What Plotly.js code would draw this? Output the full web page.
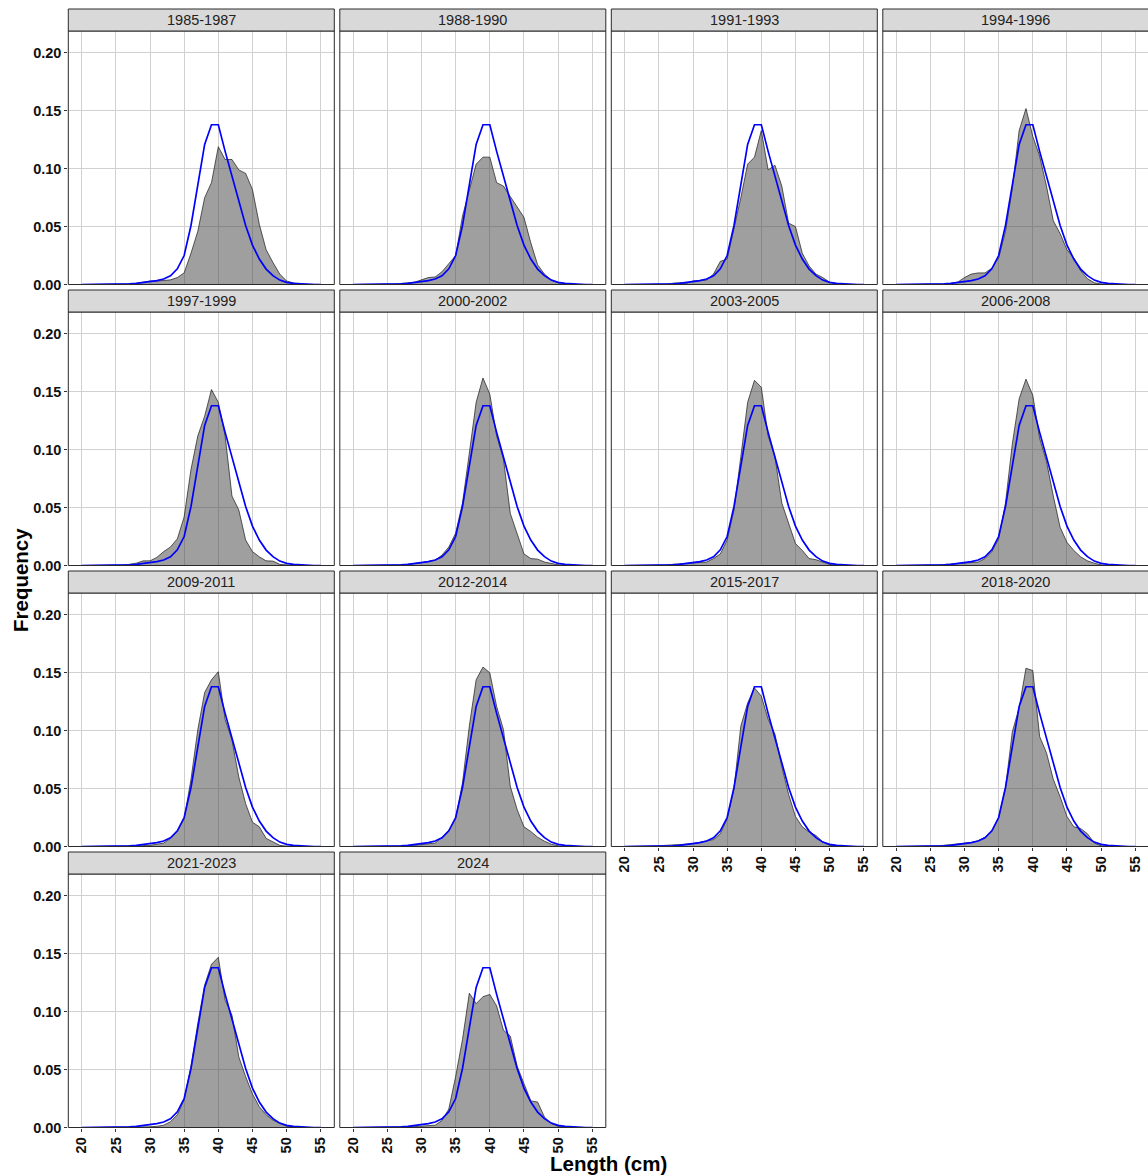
<!DOCTYPE html>
<html>
<head>
<meta charset="utf-8">
<script src="https://cdn.plot.ly/plotly-3.0.1.min.js"></script>
<style>
html,body{margin:0;padding:0;overflow:hidden;background:#fff;}
#chart{width:1152px;height:1175px;}
</style>
</head>
<body>
<div id="chart"></div>
<script>
// ---- data ----
const lengths = [20,21,22,23,24,25,26,27,28,29,30,31,32,33,34,35,36,37,38,39,40,41,42,43,44,45,46,47,48,49,50,51,52,53,54,55];
const panelNames = ["1985-1987","1988-1990","1991-1993","1994-1996","1997-1999","2000-2002","2003-2005","2006-2008","2009-2011","2012-2014","2015-2017","2018-2020","2021-2023","2024"];
const xTickVals = [20,25,30,35,40,45,50,55];
const yTickVals = [0,0.05,0.10,0.15,0.20];
const yTickText = ["0.00","0.05","0.10","0.15","0.20"];

// expected (blue line), same in every panel
const expected = [0,0,0,0,0,0,0.0002,0.0005,0.001,0.0016,0.0024,0.0034,0.0047,0.0075,0.0135,0.025,0.051,0.085,0.121,0.138,0.138,0.115,0.094,0.072,0.051,0.034,0.022,0.0133,0.0076,0.0038,0.0018,0.0009,0.0004,0.0002,0,0];

// observed (grey area) per panel
const obs1985 = [0,0,0,0,0,0,0.0002,0.0005,0.001,0.002,0.003,0.003,0.0035,0.004,0.006,0.010,0.027,0.046,0.075,0.088,0.119,0.108,0.108,0.099,0.096,0.082,0.052,0.030,0.019,0.009,0.003,0.0014,0.0005,0.0002,0,0];
const obs1988 = [0,0,0,0,0.0002,0.0003,0.0005,0.0008,0.0015,0.002,0.004,0.006,0.0065,0.011,0.018,0.025,0.059,0.082,0.104,0.110,0.110,0.088,0.085,0.076,0.067,0.058,0.036,0.017,0.009,0.004,0.0015,0.0006,0.0002,0,0,0];
const obs1991 = [0,0,0,0,0,0,0.0003,0.001,0.0015,0.001,0.003,0.0035,0.004,0.009,0.020,0.022,0.048,0.075,0.104,0.110,0.133,0.099,0.103,0.085,0.053,0.050,0.027,0.016,0.009,0.006,0.002,0.0006,0.0002,0,0,0];
const obs1994 = [0,0,0,0,0,0,0.0002,0.0005,0.001,0.002,0.006,0.009,0.010,0.010,0.014,0.023,0.046,0.083,0.133,0.152,0.128,0.111,0.085,0.055,0.044,0.030,0.023,0.012,0.005,0.0015,0.0005,0,0,0,0,0];
const obs1997 = [0,0,0,0,0,0,0.0005,0.001,0.002,0.004,0.004,0.007,0.012,0.016,0.023,0.042,0.083,0.112,0.129,0.152,0.141,0.112,0.060,0.048,0.022,0.012,0.0075,0.004,0.0038,0.001,0.0003,0,0,0,0,0];
const obs2000 = [0,0,0,0,0,0.0002,0.0004,0.0006,0.001,0.0015,0.0025,0.0035,0.0046,0.009,0.016,0.028,0.054,0.097,0.141,0.162,0.148,0.112,0.092,0.045,0.028,0.010,0.006,0.0055,0.003,0.0017,0.0006,0.0002,0,0,0,0];
const obs2003 = [0,0,0,0,0,0.0002,0.0005,0.001,0.0013,0.0017,0.002,0.0025,0.003,0.006,0.010,0.022,0.048,0.094,0.141,0.160,0.154,0.112,0.094,0.054,0.036,0.019,0.013,0.006,0.005,0.003,0.001,0.0003,0,0,0,0];
const obs2006 = [0,0,0,0,0,0.0002,0.0005,0.0008,0.0012,0.0015,0.002,0.0025,0.003,0.006,0.012,0.023,0.054,0.105,0.144,0.161,0.147,0.110,0.090,0.060,0.033,0.020,0.013,0.0075,0.004,0.002,0.0005,0,0,0,0,0];
const obs2009 = [0,0,0,0,0,0,0.0002,0.0004,0.0006,0.0008,0.001,0.002,0.003,0.007,0.013,0.024,0.058,0.101,0.133,0.144,0.151,0.110,0.092,0.060,0.037,0.021,0.017,0.007,0.004,0.001,0.0003,0,0,0,0,0];
const obs2012 = [0,0,0,0,0,0,0.0002,0.0004,0.0006,0.001,0.0015,0.002,0.003,0.008,0.014,0.024,0.055,0.104,0.144,0.155,0.150,0.121,0.101,0.052,0.032,0.017,0.013,0.008,0.0046,0.002,0.0006,0,0,0,0,0];
const obs2015 = [0,0,0,0.0002,0.0004,0.0006,0.001,0.0012,0.0015,0.002,0.0025,0.0035,0.0045,0.006,0.011,0.024,0.050,0.104,0.124,0.137,0.130,0.110,0.097,0.069,0.045,0.026,0.017,0.0125,0.0095,0.004,0.001,0.0004,0,0,0,0];
const obs2018 = [0,0,0,0,0,0.0003,0.0006,0.001,0.0015,0.002,0.0028,0.0035,0.005,0.008,0.013,0.025,0.051,0.099,0.120,0.154,0.152,0.095,0.081,0.058,0.043,0.026,0.017,0.0155,0.011,0.003,0.0006,0,0,0,0,0];
const obs2021 = [0,0,0,0,0,0,0.0002,0.0003,0.0004,0.0005,0.0006,0.001,0.002,0.005,0.011,0.024,0.053,0.090,0.123,0.141,0.147,0.110,0.097,0.061,0.044,0.029,0.018,0.011,0.0064,0.0035,0.0012,0.0004,0,0,0,0];
const obs2024 = [0,0,0,0,0,0,0,0.0003,0.0006,0.0008,0.001,0.0015,0.002,0.006,0.016,0.044,0.076,0.116,0.107,0.113,0.115,0.105,0.084,0.079,0.053,0.038,0.023,0.022,0.009,0.0035,0.001,0.0003,0,0,0,0];

const observed = [obs1985,obs1988,obs1991,obs1994,obs1997,obs2000,obs2003,obs2006,obs2009,obs2012,obs2015,obs2018,obs2021,obs2024];

// ---- layout geometry (pixels) ----
const W = 1152, H = 1175;
const colLeft = [68.3, 339.8, 611.3, 882.8], panelW = 266;
const rowTop = [31, 312, 593, 874], panelH = 253.5, stripH = 22;
const FONT = "Liberation Sans, Arial, Helvetica, sans-serif";

const data = [];
const layout = {
  width: W, height: H,
  margin: {l:0, r:0, t:0, b:0},
  paper_bgcolor: "#ffffff", plot_bgcolor: "#ffffff",
  showlegend: false, hovermode: false,
  font: {family: FONT, color: "#000"},
  shapes: [], annotations: []
};

panelNames.forEach((name, i) => {
  const r = Math.floor(i / 4), c = i % 4;
  const n = i + 1;
  const xs = n === 1 ? "x" : "x" + n;
  const ys = n === 1 ? "y" : "y" + n;
  const xk = n === 1 ? "xaxis" : "xaxis" + n;
  const yk = n === 1 ? "yaxis" : "yaxis" + n;
  const showX = i >= 10;
  const showY = c === 0;

  layout[xk] = {
    domain: [colLeft[c] / W, (colLeft[c] + panelW) / W],
    anchor: ys, range: [18.04, 56.98], fixedrange: true,
    tickmode: "array", tickvals: xTickVals, ticktext: xTickVals.map(String),
    showgrid: true, gridcolor: "#d0d0d0", gridwidth: 1, zeroline: false, showline: false,
    showticklabels: showX, ticks: showX ? "outside" : "", ticklen: 3, tickwidth: 1, tickcolor: "#333",
    tickangle: -90, tickfont: {family: FONT, size: 14.5, color: "#111", weight: "bold"}
  };
  layout[yk] = {
    domain: [(H - (rowTop[r] + panelH)) / H, (H - rowTop[r]) / H],
    anchor: xs, range: [0, 0.219], fixedrange: true,
    tickmode: "array", tickvals: yTickVals, ticktext: yTickText,
    showgrid: true, gridcolor: "#d0d0d0", gridwidth: 1, zeroline: false, showline: false,
    showticklabels: showY, ticks: showY ? "outside" : "", ticklen: 3, tickwidth: 1, tickcolor: "#333",
    tickfont: {family: FONT, size: 14.5, color: "#111", weight: "bold"}
  };

  data.push({
    type: "scatter", mode: "lines", x: lengths, y: observed[i],
    xaxis: xs, yaxis: ys, fill: "tozeroy", fillcolor: "rgba(64,64,64,0.5)",
    line: {color: "#1a1a1a", width: 0.7}, hoverinfo: "skip"
  });
  data.push({
    type: "scatter", mode: "lines", x: lengths, y: expected,
    xaxis: xs, yaxis: ys, line: {color: "#0000ff", width: 1.7}, hoverinfo: "skip"
  });

  // panel border
  layout.shapes.push({
    type: "rect", xref: xs + " domain", yref: ys + " domain",
    x0: 0, x1: 1, y0: 0, y1: 1, line: {color: "#2a2a2a", width: 1}, fillcolor: "rgba(0,0,0,0)", layer: "above"
  });
  // strip
  layout.shapes.push({
    type: "rect", xref: xs + " domain", yref: ys + " domain",
    x0: 0, x1: 1, y0: 1, y1: 1 + stripH / panelH, line: {color: "#2a2a2a", width: 1}, fillcolor: "#d9d9d9", layer: "above"
  });
  layout.annotations.push({
    xref: xs + " domain", yref: ys + " domain", x: 0.5, y: 1 + (stripH / 2) / panelH,
    xanchor: "center", yanchor: "middle", showarrow: false, text: name,
    font: {family: FONT, size: 14.5, color: "#222"}
  });
});

layout.annotations.push({
  xref: "paper", yref: "paper", x: 608.5 / W, y: (H - 1163) / H, xanchor: "center", yanchor: "middle",
  showarrow: false, text: "Length (cm)", font: {family: FONT, size: 20.5, color: "#000", weight: "bold"}
});
layout.annotations.push({
  xref: "paper", yref: "paper", x: 20 / W, y: (H - 580) / H, xanchor: "center", yanchor: "middle",
  showarrow: false, text: "Frequency", textangle: -90, font: {family: FONT, size: 20.5, color: "#000", weight: "bold"}
});

Plotly.newPlot("chart", data, layout, {staticPlot: true, displayModeBar: false});
</script>
</body>
</html>
